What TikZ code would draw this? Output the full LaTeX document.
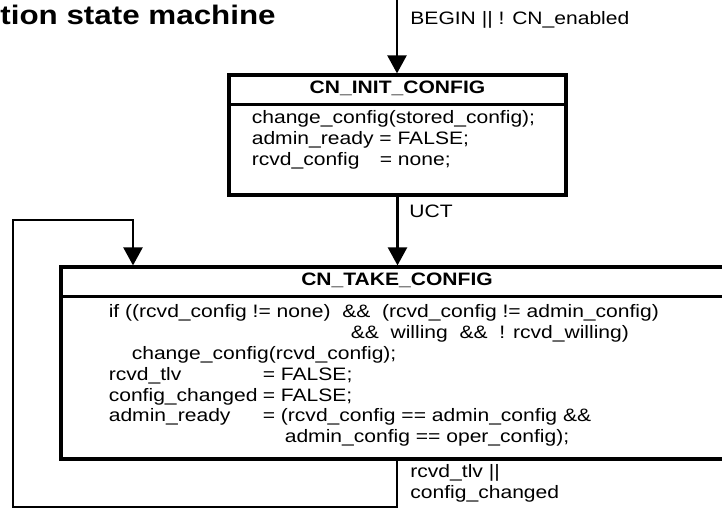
\documentclass[tikz,border=0pt]{standalone}
\usepackage{fontspec}
\setmainfont{Liberation Sans}[FakeStretch=1.17]
\usetikzlibrary{arrows.meta, positioning, calc}

\begin{document}
\begin{tikzpicture}[x=0.5pt, y=0.5pt,
        txt/.style={font=\fontsize{9}{10.4}\selectfont, inner sep=0pt},
        state/.style={draw, rectangle, line width=1.6pt},
        head/.style={txt, font=\fontsize{9}{10.4}\selectfont\bfseries, minimum height=15pt},
        body/.style={txt, align=left, anchor=north west},
        arr/.style={line width=1.2pt, -{Triangle[width=9.5pt, length=9pt]}}]
        % Page frame, the right side of CN_TAKE_CONFIG is cut off
        \clip (0,0) rectangle (722,510);
        \node[txt, font=\fontsize{13.4}{16}\selectfont\bfseries, anchor=base west] (title) at (0,485) {tion state machine};
        % States
        \node[state, minimum width=168.5pt, minimum height=60pt] (init) at (397.5,375) {};
        \node[head, below=0pt of init.north] (inithead) {CN\_INIT\_CONFIG};
        \draw[line width=1.6pt] (inithead.south -| init.west) -- (inithead.south -| init.east);
        \node[body] (initbody) at ($(init.north west)+(24,-37)$) {change\_config(stored\_config);\\
            admin\_ready = FALSE;\\
            \makebox[64pt][l]{rcvd\_config}= none;};
        \node[state, minimum width=336pt, minimum height=96pt] (take) at (397,147) {};
        \node[head, below=0pt of take.north] (takehead) {CN\_TAKE\_CONFIG};
        \draw[line width=1.6pt] (takehead.south -| take.west) -- (takehead.south -| take.east);
        \node[body] (takebody) at ($(take.north west)+(49,-39)$) {if ((rcvd\_config != none)\ \ \&\&\ \ (rcvd\_config != admin\_config)\\
            \hspace*{121pt}\&\&\ \ willing\ \ \&\&\ \ ! rcvd\_willing)\\
            \hspace*{11.5pt}change\_config(rcvd\_config);\\
            \makebox[77pt][l]{rcvd\_tlv}= FALSE;\\
            \makebox[77pt][l]{config\_changed}= FALSE;\\
            \makebox[77pt][l]{admin\_ready}= (rcvd\_config == admin\_config \&\&\\
            \hspace*{88pt}admin\_config == oper\_config);};
        % Transitions
        \coordinate (begin) at (397,510);
        \coordinate (loopa) at (13,3);
        \coordinate (loopb) at (133,290);
        \draw[arr] (begin) -- (begin |- init.north);
        \node[txt, anchor=base west] (beginlbl) at (410,485) {BEGIN || ! CN\_enabled};
        \draw[arr] (init.south) -- (init.south |- take.north);
        \node[txt, anchor=base west] (uct) at (409,293) {UCT};
        \draw[arr] (take.south) |- (loopa) |- (loopb) -- (loopb |- take.north);
        \node[txt, align=left, anchor=north west] (looplbl) at (410,46) {rcvd\_tlv ||\\config\_changed};
    \end{tikzpicture}
\end{document}
